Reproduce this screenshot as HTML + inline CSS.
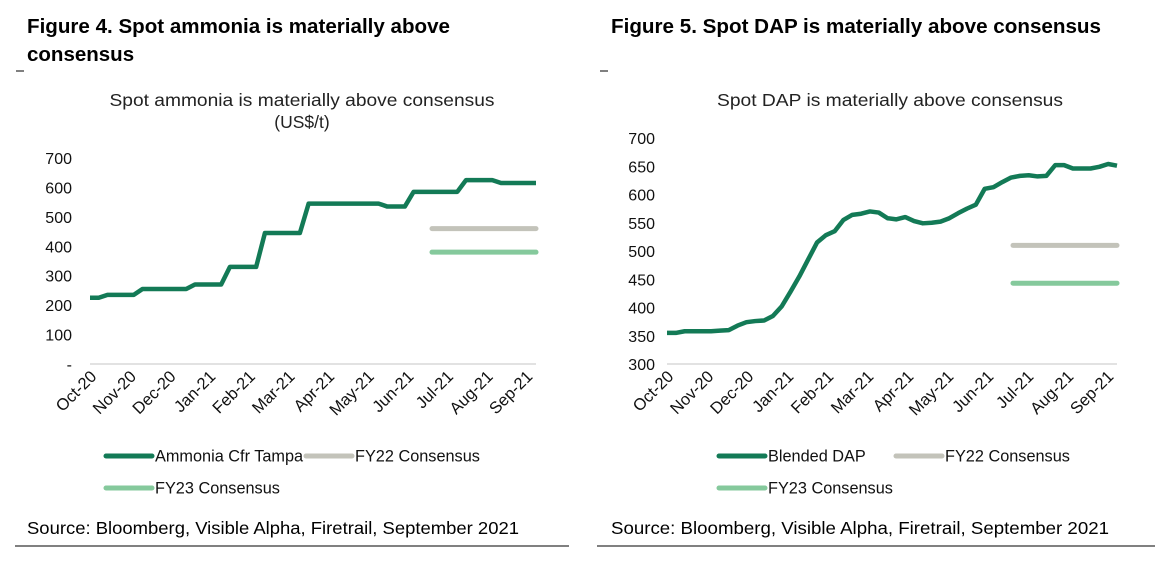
<!DOCTYPE html>
<html><head><meta charset="utf-8"><style>
body{margin:0;background:#fff;width:1175px;height:579px;overflow:hidden;font-family:"Liberation Sans",Arial,sans-serif;}
svg text{font-family:"Liberation Sans",Arial,sans-serif;}
</style></head><body>
<svg width="1175" height="579" xmlns="http://www.w3.org/2000/svg">
<g id="left"></g>
<g id="right"></g>
</svg>
<script>
const months = ["Oct-20","Nov-20","Dec-20","Jan-21","Feb-21","Mar-21","Apr-21","May-21","Jun-21","Jul-21","Aug-21","Sep-21"];
const ammonia = [225,225,235,235,235,235,255,255,255,255,255,255,270,270,270,270,330,330,330,330,445,445,445,445,445,545,545,545,545,545,545,545,545,545,535,535,535,585,585,585,585,585,585,625,625,625,625,615,615,615,615,615];
const ammoniaFY22 = 460;
const ammoniaFY23 = 380;
const ammoniaTicks = ["-","100","200","300","400","500","600","700"];
const dap = [355,355,358,358,358,358,359,360,368,374,376,377,385,402,428,455,485,515,528,535,555,564,566,570,568,558,556,560,553,549,550,552,558,567,575,582,610,613,622,630,633,634,632,633,652,652,646,646,646,649,654,651];
const dapFY22 = 510;
const dapFY23 = 443;
const dapTicks = ["300","350","400","450","500","550","600","650","700"];

const NS="http://www.w3.org/2000/svg";
function mk(parent,tag,attrs,text){const e=document.createElementNS(NS,tag);for(const k in attrs)e.setAttribute(k,attrs[k]);if(text!==undefined)e.textContent=text;parent.appendChild(e);return e;}

function chart(g,o){
  const xS=i=>o.x0+i*(o.x1-o.x0)/(o.series.length-1);
  const yS=v=>o.yb-(v-o.vmin)*(o.yb-o.yt)/(o.vmax-o.vmin);
  let t;
  t=mk(g,'text',{x:o.fx,y:33,'font-size':20.5,'font-weight':'bold',fill:'#000',textLength:o.fw,lengthAdjust:'spacingAndGlyphs'},o.fig1);
  
  
  if(o.fig2){t=mk(g,'text',{x:o.fx,y:61,'font-size':20.5,'font-weight':'bold',fill:'#000'},o.fig2);
  
  }
  mk(g,'line',{x1:o.fx-11,x2:o.fx-3,y1:71,y2:71,stroke:'#000','stroke-width':1});
  t=mk(g,'text',{x:o.cx,y:106,'font-size':17.5,'text-anchor':'middle',fill:'#222',textLength:o.tw,lengthAdjust:'spacingAndGlyphs'},o.title);
  
  
  if(o.sub){t=mk(g,'text',{x:o.cx,y:128,'font-size':17.5,'text-anchor':'middle',fill:'#222'},o.sub);
  
  }
  const tv=(o.vmax-o.vmin)/(o.ticks.length-1);
  o.ticks.forEach((lb,i)=>{const e=mk(g,'text',{x:o.lx,y:yS(o.vmin+i*tv)+6,'font-size':16,'text-anchor':'end',fill:'#111'},lb);
    
    });
  const ax=mk(g,'line',{x1:o.x0,x2:o.x1,y1:o.yb,y2:o.yb,stroke:'#d9d9d9','stroke-width':1.5});
  
  
  const mstep=(o.x1-o.x0-10)/(months.length-1);
  months.forEach((m,i)=>{const x=o.x0+4+i*mstep,y=o.yb+10;
    const e=mk(g,'text',{x:x,y:y+5,'font-size':16.5,'text-anchor':'end',fill:'#111',transform:`rotate(-45 ${x} ${y})`},m);
    
    });
  const cons=(v,c,n)=>{const e=mk(g,'line',{x1:o.cs0,x2:o.x1,y1:yS(v),y2:yS(v),stroke:c,'stroke-width':5,'stroke-linecap':'round'});
    
    };
  cons(o.fy22,'#c3c3ba','fy22-consensus-line');
  cons(o.fy23,'#85c99c','fy23-consensus-line');
  const p=mk(g,'polyline',{points:o.series.map((v,i)=>xS(i)+','+yS(v)).join(' '),fill:'none',stroke:'#137a56','stroke-width':4.5,'stroke-linejoin':'round'});
  
  
  const leg=(x,y,c,txt,n)=>{const lg=mk(g,'g',{});
    
    
    mk(lg,'line',{x1:x,x2:x+46,y1:y,y2:y,stroke:c,'stroke-width':5,'stroke-linecap':'round'});
    mk(lg,'text',{x:x+49,y:y+5.5,'font-size':16.3,fill:'#111'},txt);};
  leg(o.lg1,456,'#137a56',o.sname,'legend-entry-spot');
  leg(o.lg2,456,'#c3c3ba','FY22 Consensus','legend-entry-fy22');
  leg(o.lg1,488,'#85c99c','FY23 Consensus','legend-entry-fy23');
  t=mk(g,'text',{x:o.fx,y:534,'font-size':17.5,fill:'#000',textLength:o.sw,lengthAdjust:'spacingAndGlyphs'},o.source);
  
  
  const r=mk(g,'line',{x1:o.r0,x2:o.r1,y1:546,y2:546,stroke:'#000','stroke-width':1});
  
  
}
chart(document.getElementById('left'),{fx:27,fig1:"Figure 4. Spot ammonia is materially above",fw:423,fig2:"consensus",cx:302,
  title:"Spot ammonia is materially above consensus",tw:385,sub:"(US$/t)",series:ammonia,fy22:ammoniaFY22,fy23:ammoniaFY23,
  ticks:ammoniaTicks,vmin:0,vmax:700,x0:90,x1:536,yb:364,yt:158,lx:72,cs0:432,lg1:106,lg2:306,sname:"Ammonia Cfr Tampa",
  source:"Source:  Bloomberg, Visible Alpha, Firetrail, September 2021",sw:492,r0:15,r1:569});
chart(document.getElementById('right'),{fx:611,fig1:"Figure 5. Spot DAP is materially above consensus",fw:490,fig2:null,cx:890,
  title:"Spot DAP is materially above consensus",tw:346,sub:null,series:dap,fy22:dapFY22,fy23:dapFY23,
  ticks:dapTicks,vmin:300,vmax:700,x0:667,x1:1117,yb:364,yt:138,lx:655,cs0:1013,lg1:719,lg2:896,sname:"Blended DAP",
  source:"Source:  Bloomberg, Visible Alpha, Firetrail,  September 2021",sw:498,r0:597,r1:1155});
</script>
</body></html>
